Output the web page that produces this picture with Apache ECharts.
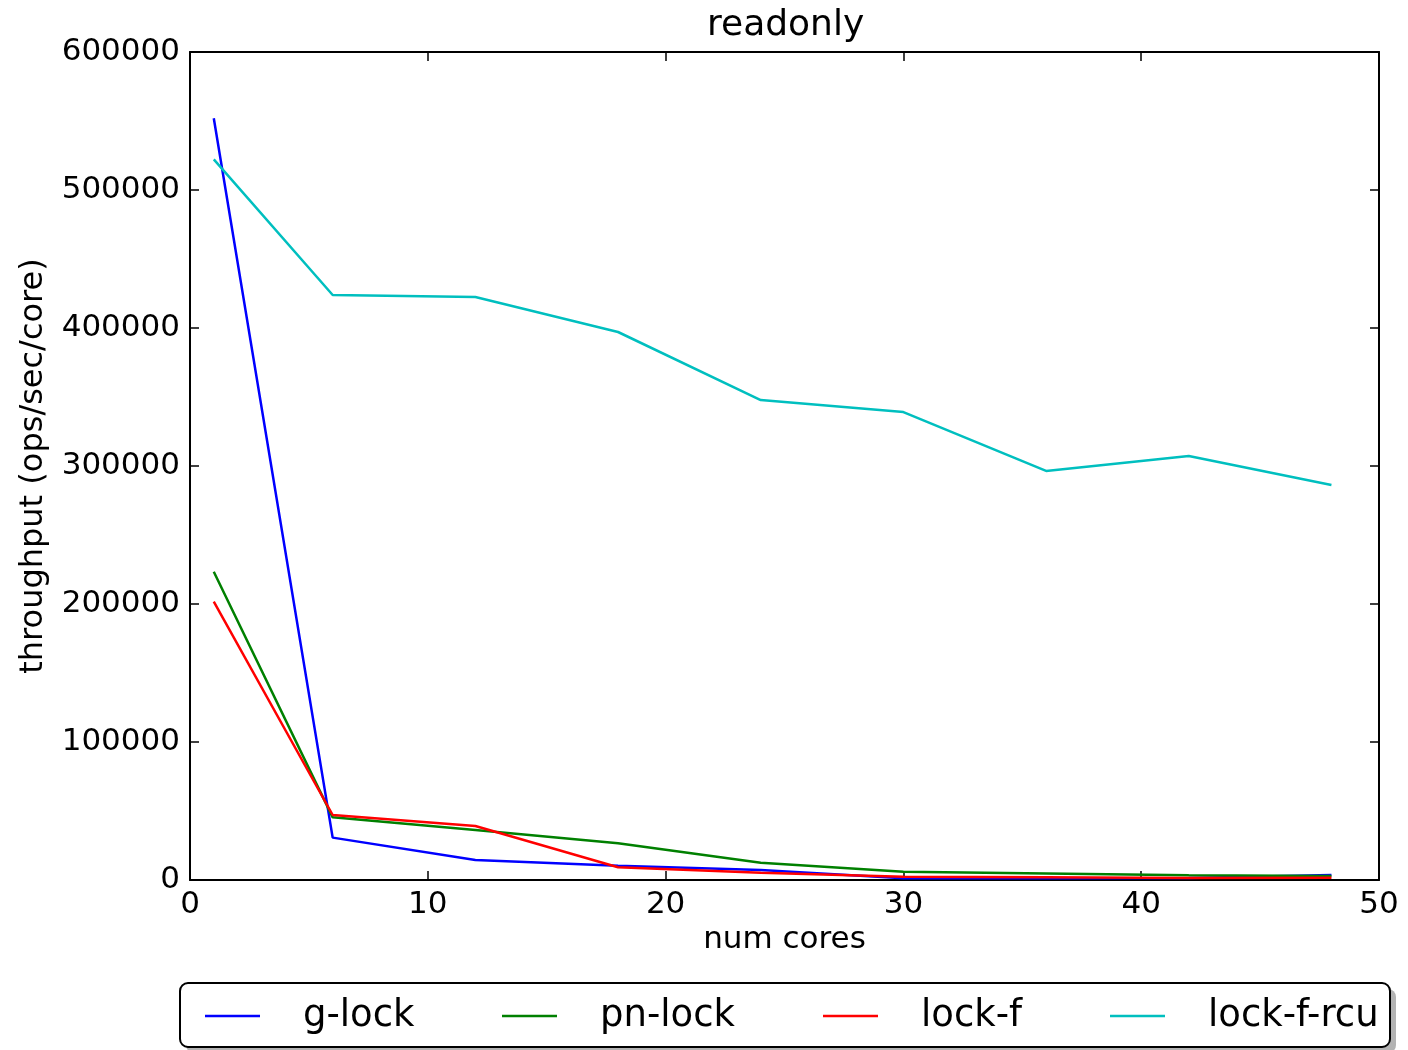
<!DOCTYPE html>
<html>
<head>
<meta charset="utf-8">
<script src="https://cdn.jsdelivr.net/npm/echarts@6/dist/echarts.min.js"></script>
<style>html,body{margin:0;padding:0;background:#fff;}#c{width:1408px;height:1050px;}</style>
</head>
<body>
<div id="c"></div>
<script>
const cores = [1, 6, 12, 18, 24, 30, 36, 42, 48];
const gLock = [552000, 30700, 14500, 10400, 7300, 1200, 1200, 1500, 3600];
const pnLock = [223400, 45400, 36200, 26600, 12500, 6000, 4800, 3400, 2900];
const lockF = [201700, 47100, 39100, 9200, 5300, 2400, 2000, 1500, 1700];
const lockFRcu = [522200, 423900, 422400, 397100, 347800, 339100, 296400, 307200, 286200];
const seriesNames = ['g-lock', 'pn-lock', 'lock-f', 'lock-f-rcu'];
const seriesColors = ['#0000ff', '#008000', '#ff0000', '#00bfbf'];
const seriesValues = [gLock, pnLock, lockF, lockFRcu];

const FONT = 'DejaVu Sans';
const chart = echarts.init(document.getElementById('c'));

const series = seriesNames.map((n, i) => ({
  name: n,
  type: 'line',
  xAxisIndex: 0,
  yAxisIndex: 0,
  data: cores.map((x, j) => [x, seriesValues[i][j]]),
  showSymbol: false,
  symbol: 'none',
  lineStyle: { color: seriesColors[i], width: 2.5 },
  itemStyle: { color: seriesColors[i] },
  animation: false,
  z: 2 + i
}));

const legendLefts = [205, 502, 823, 1110];
const legends = seriesNames.map((n, i) => ({
  data: [{ name: n, icon: 'rect' }],
  left: legendLefts[i],
  top: 996,
  padding: 0,
  itemWidth: 55,
  itemHeight: 2.5,
  selectedMode: false,
  textStyle: { fontFamily: FONT, fontSize: 37, color: '#000', lineHeight: 40, padding: [0, 0, 0, 38] }
}));

const axisCommon = {
  min: 0,
  axisLine: { show: true, onZero: false, lineStyle: { color: '#000', width: 2 } },
  axisTick: { show: true, inside: true, length: 9, lineStyle: { color: '#000', width: 1.5 } },
  splitLine: { show: false }
};

chart.setOption({
  animation: false,
  backgroundColor: '#fff',
  title: {
    text: 'readonly',
    left: 707,
    top: 8,
    padding: 0,
    textStyle: { fontFamily: FONT, fontSize: 36, fontWeight: 'normal', color: '#000' }
  },
  grid: { left: 190, right: 29, top: 52, bottom: 170, containLabel: false },
  xAxis: [
    Object.assign({}, axisCommon, {
      type: 'value', position: 'bottom', max: 50, interval: 10,
      name: 'num cores', nameLocation: 'middle', nameGap: 43,
      nameTextStyle: { fontFamily: FONT, fontSize: 31, color: '#000' },
      axisLabel: { fontFamily: FONT, fontSize: 31, color: '#000', margin: 9 }
    }),
    Object.assign({}, axisCommon, {
      type: 'value', position: 'top', max: 50, interval: 10,
      axisLabel: { show: false }
    })
  ],
  yAxis: [
    Object.assign({}, axisCommon, {
      type: 'value', position: 'left', max: 600000, interval: 100000,
      name: 'throughput (ops/sec/core)', nameLocation: 'middle', nameGap: 140,
      nameTextStyle: { fontFamily: FONT, fontSize: 32, color: '#000' },
      axisLabel: { fontFamily: FONT, fontSize: 31, color: '#000', margin: 10, formatter: v => String(v) }
    }),
    Object.assign({}, axisCommon, {
      type: 'value', position: 'right', max: 600000, interval: 100000,
      axisLabel: { show: false }
    })
  ],
  legend: legends,
  graphic: [
    { type: 'rect', z: 0, shape: { x: 186, y: 989, width: 1210, height: 64, r: 8 }, style: { fill: '#b3b3b3' } },
    { type: 'rect', z: 1, shape: { x: 180, y: 983, width: 1210, height: 64, r: 8 }, style: { fill: '#fff', stroke: '#000', lineWidth: 2 } }
  ],
  series: series
});
</script>
</body>
</html>
